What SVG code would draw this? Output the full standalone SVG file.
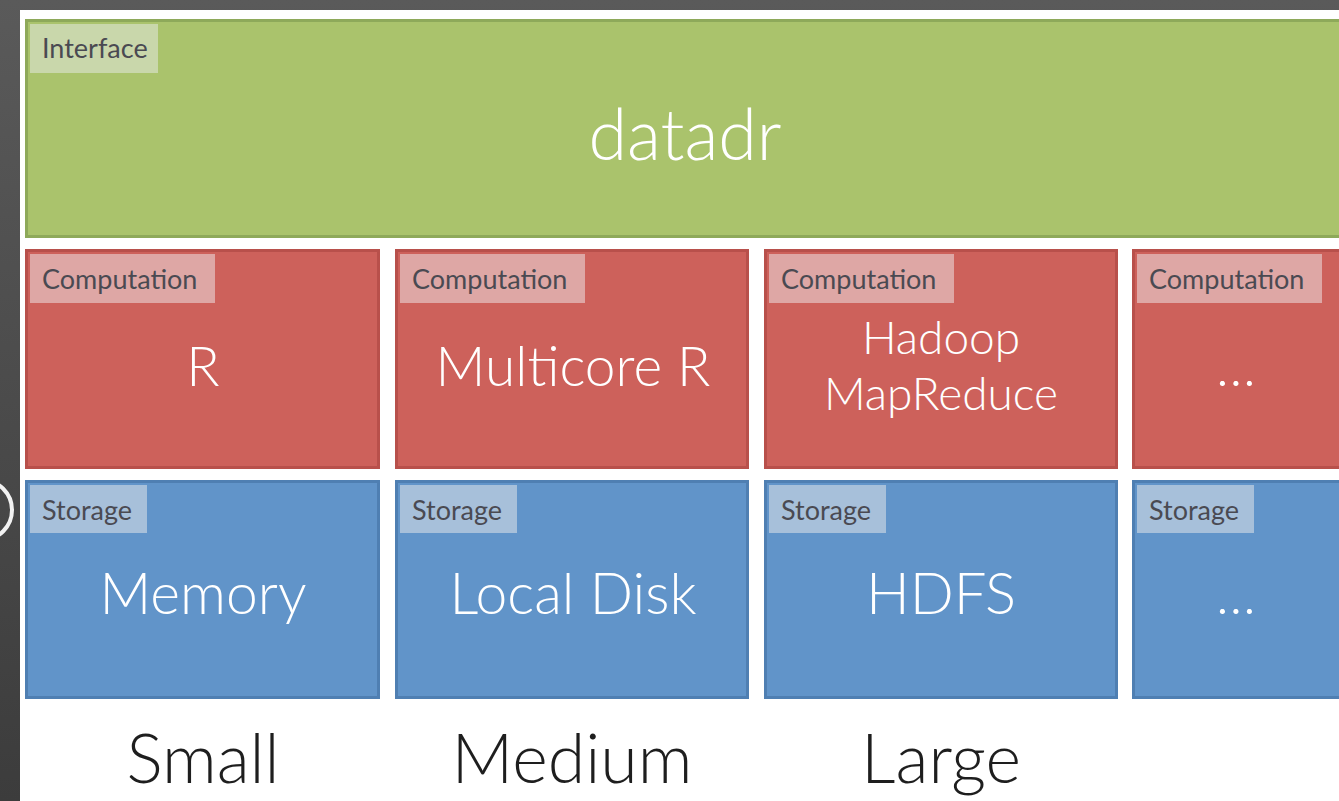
<svg xmlns="http://www.w3.org/2000/svg" width="1339" height="801" viewBox="0 0 1339 801">
<defs>
<linearGradient id="bg" x1="0" y1="0" x2="0" y2="1">
<stop offset="0" stop-color="#5a5a5a"/><stop offset="1" stop-color="#3c3c3c"/>
</linearGradient>
<style>
.lbl{font-family:Lato,"Open Sans",sans-serif;font-size:27px;fill:#4a4a52}
.big{font-family:Lato,"Open Sans",sans-serif;font-size:55px;font-weight:300;fill:#ffffff;text-anchor:middle}
.sz{font-family:Lato,"Open Sans",sans-serif;font-size:68px;font-weight:300;fill:#1e1e1e;text-anchor:middle}
.g{fill:#aac36c;stroke:#8ea95a;stroke-width:3}
.gl{fill:#c9d7ab}
.r{fill:#cd615b;stroke:#b8504b;stroke-width:3}
.rl{fill:#dea7a5}
.b{fill:#6194c9;stroke:#4f7fb2;stroke-width:3}
.bl{fill:#a7c0da}
</style>
</defs>
<rect x="0" y="0" width="1339" height="801" fill="url(#bg)"/>
<path d="M0,480 A30,30 0 0 1 0,540" fill="none" stroke="#f2f2f2" stroke-width="4" transform="translate(-18,0)"/>
<rect x="20" y="10" width="1319" height="791" fill="#ffffff"/>
<g id="interface">
<rect class="g" x="26.5" y="20.5" width="1320" height="216"/>
<rect class="gl" x="30" y="24" width="128" height="49"/>
<text class="lbl" x="42" y="58">Interface</text>
<text class="big" x="685" y="160" style="font-size:70px">datadr</text>
</g>
<g id="comp-r">
<rect class="r" x="26.5" y="250.5" width="352" height="217"/>
<rect class="rl" x="30" y="254" width="185" height="49"/>
<text class="lbl" x="42" y="289">Computation</text>
<text class="big" x="203" y="386">R</text>
</g>
<g id="comp-multicore">
<rect class="r" x="396.5" y="250.5" width="351" height="217"/>
<rect class="rl" x="400" y="254" width="185" height="49"/>
<text class="lbl" x="412" y="289">Computation</text>
<text class="big" x="573" y="386">Multicore R</text>
</g>
<g id="comp-hadoop">
<rect class="r" x="765.5" y="250.5" width="351" height="217"/>
<rect class="rl" x="769" y="254" width="185" height="49"/>
<text class="lbl" x="781" y="289">Computation</text>
<text class="big" x="941" y="354" style="font-size:46px">Hadoop</text>
<text class="big" x="941" y="410" style="font-size:46px">MapReduce</text>
</g>
<g id="comp-more">
<rect class="r" x="1133.5" y="250.5" width="220" height="217"/>
<rect class="rl" x="1137" y="254" width="185" height="49"/>
<text class="lbl" x="1149" y="289">Computation</text>
<text class="big" x="1236" y="386">…</text>
</g>
<g id="store-memory">
<rect class="b" x="26.5" y="481.5" width="352" height="216"/>
<rect class="bl" x="30" y="485" width="117" height="48"/>
<text class="lbl" x="42" y="520">Storage</text>
<text class="big" x="203" y="614" style="font-size:57px">Memory</text>
</g>
<g id="store-localdisk">
<rect class="b" x="396.5" y="481.5" width="351" height="216"/>
<rect class="bl" x="400" y="485" width="117" height="48"/>
<text class="lbl" x="412" y="520">Storage</text>
<text class="big" x="573" y="614" style="font-size:57px">Local Disk</text>
</g>
<g id="store-hdfs">
<rect class="b" x="765.5" y="481.5" width="351" height="216"/>
<rect class="bl" x="769" y="485" width="117" height="48"/>
<text class="lbl" x="781" y="520">Storage</text>
<text class="big" x="941" y="614" style="font-size:58px">HDFS</text>
</g>
<g id="store-more">
<rect class="b" x="1133.5" y="481.5" width="220" height="216"/>
<rect class="bl" x="1137" y="485" width="117" height="48"/>
<text class="lbl" x="1149" y="520">Storage</text>
<text class="big" x="1236" y="614">…</text>
</g>
<g id="connectors"/>
<g id="scale-labels">
<text class="sz" x="203" y="783">Small</text>
<text class="sz" x="572" y="783">Medium</text>
<text class="sz" x="941" y="783">Large</text>
</g>
</svg>
